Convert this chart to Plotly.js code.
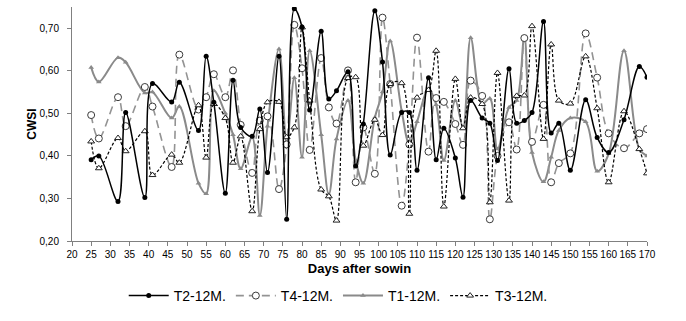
<!DOCTYPE html>
<html>
<head>
<meta charset="utf-8">
<script src="https://cdn.plot.ly/plotly-3.0.1.min.js"></script>
<style>html,body{margin:0;padding:0;background:#fff;}#chart{width:686px;height:321px;}</style>
</head>
<body>
<div id="chart"></div>
<script>
const days = [25,27,32,34,39,41,46,48,53,55,57,60,62,64,67,69,71,74,76,78,80,82,85,87,89,92,94,96,99,101,103,106,108,110,113,115,117,120,122,124,127,129,131,134,136,138,140,143,145,147,150,154,157,160,164,168,170];

const t2 = [0.391,0.400,0.293,0.502,0.302,0.570,0.527,0.573,0.460,0.634,0.526,0.312,0.578,0.467,0.446,0.510,0.361,0.634,0.251,0.746,0.703,0.508,0.693,0.534,0.553,0.598,0.376,0.475,0.741,0.621,0.402,0.502,0.502,0.366,0.584,0.391,0.465,0.395,0.303,0.530,0.489,0.477,0.389,0.605,0.477,0.483,0.502,0.716,0.454,0.477,0.366,0.532,0.443,0.408,0.485,0.610,0.585];

const t4 = [0.496,0.441,0.538,0.470,0.562,0.516,0.374,0.638,0.509,0.538,0.592,0.538,0.601,0.473,0.360,0.483,0.493,0.322,0.427,0.708,0.606,0.414,0.630,0.514,0.476,0.601,0.338,0.467,0.358,0.725,0.569,0.283,0.427,0.678,0.410,0.536,0.527,0.475,0.426,0.577,0.541,0.251,0.400,0.479,0.415,0.677,0.433,0.520,0.338,0.383,0.406,0.688,0.584,0.453,0.418,0.453,0.463];

const t1 = [0.608,0.574,0.631,0.620,0.548,0.550,0.489,0.516,0.336,0.311,0.553,0.500,0.450,0.370,0.444,0.260,0.470,0.651,0.430,0.584,0.397,0.647,0.450,0.310,0.440,0.530,0.390,0.336,0.490,0.550,0.670,0.506,0.428,0.480,0.557,0.520,0.389,0.530,0.467,0.678,0.522,0.535,0.416,0.514,0.530,0.680,0.408,0.339,0.397,0.460,0.489,0.480,0.364,0.405,0.647,0.416,0.400];

const t3 = [0.434,0.371,0.442,0.411,0.458,0.355,0.403,0.384,0.519,0.396,0.522,0.489,0.384,0.446,0.270,0.463,0.526,0.527,0.444,0.467,0.702,0.530,0.321,0.305,0.248,0.583,0.585,0.424,0.485,0.449,0.569,0.571,0.264,0.537,0.555,0.647,0.281,0.581,0.465,0.537,0.522,0.291,0.595,0.295,0.541,0.542,0.705,0.440,0.662,0.530,0.523,0.634,0.512,0.338,0.505,0.416,0.359];

const seriesNames = ["T2-12M.","T4-12M.","T1-12M.","T3-12M."];
const yTickVals = [0.2,0.3,0.4,0.5,0.6,0.7];
const xTickVals = [20,25,30,35,40,45,50,55,60,65,70,75,80,85,90,95,100,105,110,115,120,125,130,135,140,145,150,155,160,165,170];

const traces = [
  {x: days, y: t1, name: seriesNames[2], type: 'scatter', mode: 'lines+markers', legendrank: 3,
   line: {color: '#8a8a8a', width: 2, shape: 'spline', smoothing: 1},
   marker: {symbol: 'triangle-up', size: 5, color: '#8a8a8a'}},
  {x: days, y: t4, name: seriesNames[1], type: 'scatter', mode: 'lines+markers', legendrank: 2,
   line: {color: '#939393', width: 1.6, dash: '8px,5px', shape: 'spline', smoothing: 1},
   marker: {symbol: 'circle', size: 7, color: '#ffffff', line: {width: 1, color: '#3a3a3a'}}},
  {x: days, y: t3, name: seriesNames[3], type: 'scatter', mode: 'lines+markers', legendrank: 4,
   line: {color: '#000000', width: 1.2, dash: '3px,2px', shape: 'spline', smoothing: 1},
   marker: {symbol: 'triangle-up', size: 6, color: '#ffffff', line: {width: 1, color: '#222222'}}},
  {x: days, y: t2, name: seriesNames[0], type: 'scatter', mode: 'lines+markers', legendrank: 1,
   line: {color: '#000000', width: 1.5, shape: 'spline', smoothing: 1},
   marker: {symbol: 'circle', size: 5, color: '#000000'}}
];

const layout = {
  width: 686, height: 321,
  margin: {l: 72, r: 39, t: 7, b: 80},
  paper_bgcolor: '#ffffff', plot_bgcolor: '#ffffff',
  separators: ', ',
  font: {family: 'Liberation Sans, Arial, sans-serif', color: '#000000', size: 10},
  showlegend: true,
  legend: {orientation: 'h', x: 0.463, xanchor: 'center', y: -0.235, yanchor: 'middle', traceorder: 'normal',
           font: {size: 14, family: 'Liberation Sans, Arial, sans-serif'}, itemwidth: 40, tracegroupgap: 0},
  xaxis: {
    range: [20, 170], tickvals: xTickVals, ticktext: xTickVals.map(String),
    showgrid: false, zeroline: false, showline: true, linecolor: '#808080', linewidth: 1,
    ticks: 'outside', ticklen: 4, tickcolor: '#808080',
    tickfont: {size: 10},
    title: {text: '<b>Days after sowin</b>', font: {size: 13}, standoff: 4}
  },
  yaxis: {
    range: [0.2, 0.75], tickvals: yTickVals, tickformat: '.2f',
    showgrid: false, zeroline: false, showline: true, linecolor: '#808080', linewidth: 1,
    ticks: 'outside', ticklen: 4, tickcolor: '#808080', ticklabelstandoff: 6,
    tickfont: {size: 10},
    title: {text: '<b>CWSI</b>', font: {size: 12}, standoff: 0}
  }
};

Plotly.newPlot('chart', traces, layout, {displayModeBar: false, staticPlot: true});
</script>
</body>
</html>
